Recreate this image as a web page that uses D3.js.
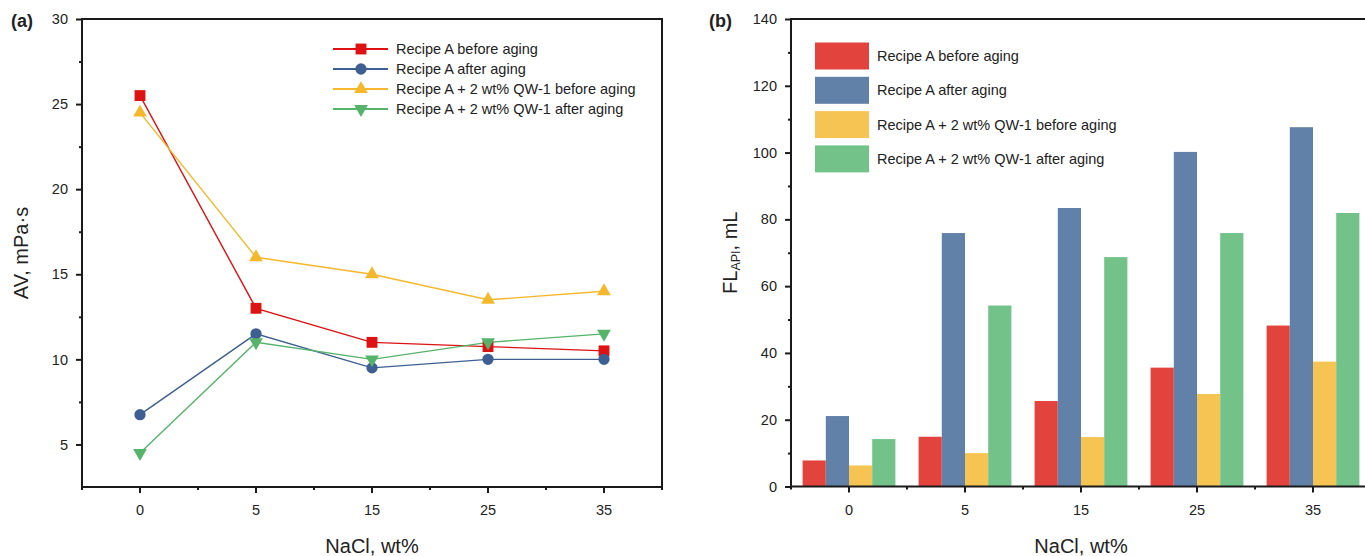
<!DOCTYPE html>
<html>
<head>
<meta charset="utf-8">
<script src="https://cdn.jsdelivr.net/npm/d3@7"></script>
<style>
  html, body { margin: 0; padding: 0; background: #fff; }
  svg { display: block; }
  text { font-family: "Liberation Sans", Arial, sans-serif; fill: #222; }
</style>
</head>
<body>
<svg id="chart" width="1365" height="556"></svg>
<script>
// NaCl concentration categories (wt%)
const categories = ["0", "5", "15", "25", "35"];

const seriesNames = [
  "Recipe A before aging",
  "Recipe A after aging",
  "Recipe A + 2 wt% QW-1 before aging",
  "Recipe A + 2 wt% QW-1 after aging"
];

// Apparent viscosity, mPa·s
const avBefore     = [25.5, 13.0, 11.0, 10.75, 10.5];
const avAfter      = [6.75, 11.5, 9.5, 10.0, 10.0];
const avQwBefore   = [24.5, 16.0, 15.0, 13.5, 14.0];
const avQwAfter    = [4.5, 11.0, 10.0, 11.0, 11.5];

// API filtration loss, mL
const flBefore     = [7.8, 14.9, 25.6, 35.6, 48.2];
const flAfter      = [21.1, 75.9, 83.4, 100.2, 107.6];
const flQwBefore   = [6.3, 10.0, 14.8, 27.7, 37.4];
const flQwAfter    = [14.2, 54.2, 68.7, 75.9, 81.9];

const avTicks = [5, 10, 15, 20, 25, 30];
const avMinor = [7.5, 12.5, 17.5, 22.5, 27.5];
const flTicks = [0, 20, 40, 60, 80, 100, 120, 140];
const flMinor = [10, 30, 50, 70, 90, 110, 130];

const lineColors = ["#dd1212", "#3d5f92", "#f5b82c", "#55b36a"];
const barColors  = ["#e2443d", "#6281a8", "#f6c453", "#73c289"];
const markerTypes = [d3.symbolSquare, d3.symbolCircle, d3.symbolTriangle, d3.symbolTriangle];
const markerSizes = [118, 100, 82, 82];

const svg = d3.select("#chart");
const axisColor = "#1a1a1a";
const fontFamily = '"Liberation Sans", Arial, sans-serif';

function drawYTicks(g, scale, major, minor, x) {
  const ax = g.append("g").attr("transform", `translate(${x},0)`)
    .call(d3.axisLeft(scale).tickValues(major).tickSize(6).tickSizeOuter(0).tickPadding(8));
  ax.select(".domain").remove();
  ax.selectAll("line").attr("stroke", axisColor).attr("stroke-width", 2);
  ax.selectAll("text").attr("font-size", 14.5).attr("fill", "#222").style("font-family", fontFamily);
  const mn = g.append("g").attr("transform", `translate(${x},0)`)
    .call(d3.axisLeft(scale).tickValues(minor).tickSize(3).tickFormat(""));
  mn.select(".domain").remove();
  mn.selectAll("line").attr("stroke", axisColor).attr("stroke-width", 2);
}

function drawXTicks(g, band, y) {
  // band axis places ticks at band centres
  const ax = g.append("g").attr("transform", `translate(0,${y})`)
    .call(d3.axisBottom(band).tickSize(6).tickSizeOuter(0).tickPadding(12));
  ax.select(".domain").remove();
  ax.selectAll("line").attr("stroke", axisColor).attr("stroke-width", 2);
  ax.selectAll("text").attr("font-size", 14.5).attr("fill", "#222").style("font-family", fontFamily);
  // minor ticks on category boundaries
  const bounds = categories.map(c => band(c)).concat([band.range()[1]]);
  g.append("g").selectAll("line").data(bounds).join("line")
    .attr("x1", d => d).attr("x2", d => d)
    .attr("y1", y).attr("y2", y + 3)
    .attr("stroke", axisColor).attr("stroke-width", 2);
}

// ---------- (a) apparent viscosity ----------
{
  const left = 82, right = 662, top = 19, bottom = 487;
  const g = svg.append("g");
  const x = d3.scaleBand().domain(categories).range([left, right]).padding(0);
  const y = d3.scaleLinear().domain([2.5, 30]).range([bottom, top]);
  const cx = c => x(c) + x.bandwidth() / 2;

  const series = [avBefore, avAfter, avQwBefore, avQwAfter];
  const line = d3.line().x((d, i) => cx(categories[i])).y(d => y(d));

  series.forEach((vals, s) => {
    g.append("path").datum(vals)
      .attr("d", line).attr("fill", "none")
      .attr("stroke", lineColors[s]).attr("stroke-width", 1.4);
  });
  series.forEach((vals, s) => {
    g.append("g").selectAll("path").data(vals).join("path")
      .attr("d", d3.symbol(markerTypes[s], markerSizes[s]))
      .attr("transform", (d, i) => `translate(${cx(categories[i])},${y(d)})` + (s === 3 ? " rotate(180)" : ""))
      .attr("fill", lineColors[s]);
  });

  // frame
  g.append("rect").attr("x", left).attr("y", top)
    .attr("width", right - left).attr("height", bottom - top)
    .attr("fill", "none").attr("stroke", axisColor).attr("stroke-width", 2);
  drawYTicks(g, y, avTicks, avMinor, left);
  drawXTicks(g, x, bottom);

  // legend
  const lg = g.append("g");
  seriesNames.forEach((name, s) => {
    const ly = 49 + s * 20;
    lg.append("line").attr("x1", 333).attr("x2", 388).attr("y1", ly).attr("y2", ly)
      .attr("stroke", lineColors[s]).attr("stroke-width", 1.8);
    lg.append("path").attr("d", d3.symbol(markerTypes[s], markerSizes[s])())
      .attr("transform", `translate(361,${ly})` + (s === 3 ? " rotate(180)" : ""))
      .attr("fill", lineColors[s]);
    lg.append("text").attr("x", 396).attr("y", ly).attr("dy", "0.35em")
      .attr("font-size", 14.5).text(name);
  });

  svg.append("text").attr("x", 11).attr("y", 27).attr("font-size", 18)
    .attr("font-weight", "bold").text("(a)");
  svg.append("text").attr("x", (left + right) / 2).attr("y", 553)
    .attr("text-anchor", "middle").attr("font-size", 20).text("NaCl, wt%");
  svg.append("text").attr("transform", `translate(28,${(top + bottom) / 2}) rotate(-90)`)
    .attr("text-anchor", "middle").attr("font-size", 20).text("AV, mPa·s");
}

// ---------- (b) API filtration loss ----------
{
  const left = 791, right = 1371, top = 19, bottom = 486.5;
  const g = svg.append("g");
  const x = d3.scaleBand().domain(categories).range([left, right]).padding(0);
  const xs = d3.scaleBand().domain(seriesNames).range([0, x.bandwidth()])
    .paddingInner(0).paddingOuter(0.5);
  const y = d3.scaleLinear().domain([0, 140]).range([bottom, top]);

  const series = [flBefore, flAfter, flQwBefore, flQwAfter];
  const rows = categories.map((c, i) => ({ c, vals: series.map((v, s) => ({ s, v: v[i] })) }));

  g.selectAll("g.grp").data(rows).join("g").attr("class", "grp")
    .attr("transform", d => `translate(${x(d.c)},0)`)
    .selectAll("rect").data(d => d.vals).join("rect")
    .attr("x", d => xs(seriesNames[d.s]))
    .attr("width", xs.bandwidth())
    .attr("y", d => y(d.v))
    .attr("height", d => y(0) - y(d.v))
    .attr("fill", d => barColors[d.s]);

  // frame: left, top, bottom
  g.append("path")
    .attr("d", `M${right},${top}H${left}V${bottom}H${right}`)
    .attr("fill", "none").attr("stroke", axisColor).attr("stroke-width", 2);
  drawYTicks(g, y, flTicks, flMinor, left);
  drawXTicks(g, x, bottom);

  // legend
  const lg = g.append("g");
  seriesNames.forEach((name, s) => {
    const ly = 56 + s * 34.3;
    lg.append("rect").attr("x", 815).attr("y", ly - 13.5).attr("width", 54).attr("height", 27)
      .attr("fill", barColors[s]);
    lg.append("text").attr("x", 877).attr("y", ly).attr("dy", "0.35em")
      .attr("font-size", 14.5).text(name);
  });

  svg.append("text").attr("x", 709).attr("y", 27).attr("font-size", 18)
    .attr("font-weight", "bold").text("(b)");
  svg.append("text").attr("x", 1081).attr("y", 553)
    .attr("text-anchor", "middle").attr("font-size", 20).text("NaCl, wt%");
  const yt = svg.append("text").attr("transform", `translate(737,${(top + bottom) / 2}) rotate(-90)`)
    .attr("text-anchor", "middle").attr("font-size", 20);
  yt.append("tspan").text("FL");
  yt.append("tspan").attr("font-size", 12.5).attr("dy", 3).text("API");
  yt.append("tspan").attr("dy", -3).text(", mL");
}
</script>
</body>
</html>
